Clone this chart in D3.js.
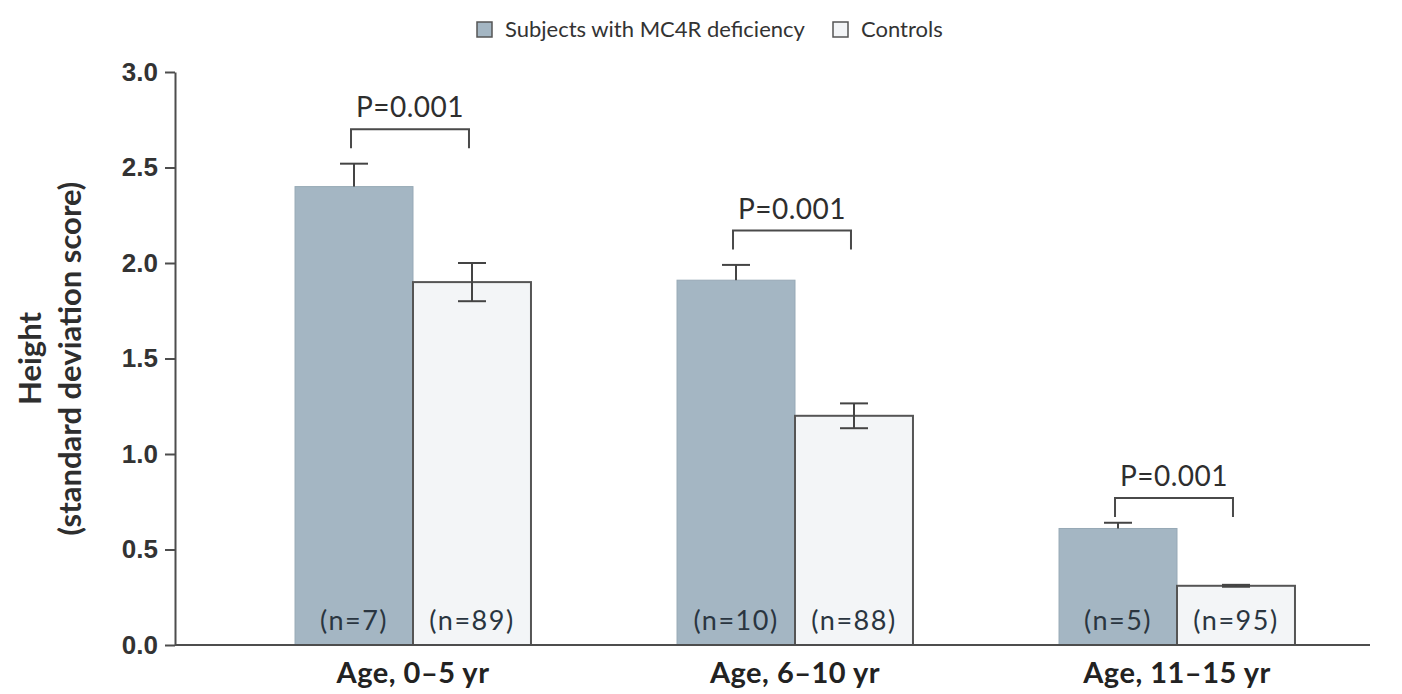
<!DOCTYPE html>
<html>
<head>
<meta charset="utf-8">
<script src="https://cdn.jsdelivr.net/npm/d3@7"></script>
<style>
  body { margin: 0; background: #fff; }
  svg { display: block; font-family: Lato, "Open Sans", sans-serif; }
  .tick text { font-size: 26px; font-weight: bold; fill: #333; }
</style>
</head>
<body>
<svg width="1402" height="694"></svg>
<script>
const groups = ['Age, 0–5 yr', 'Age, 6–10 yr', 'Age, 11–15 yr'];
const seriesNames = ['Subjects with MC4R deficiency', 'Controls'];
const mc4rValues = [2.40, 1.91, 0.61];
const mc4rErrors = [0.12, 0.08, 0.03];
const controlValues = [1.90, 1.20, 0.31];
const controlErrors = [0.10, 0.065, 0.005];
const mc4rCounts = ['(n=7)', '(n=10)', '(n=5)'];
const controlCounts = ['(n=89)', '(n=88)', '(n=95)'];
const pLabels = ['P=0.001', 'P=0.001', 'P=0.001'];
const pLevels = [2.70, 2.17, 0.77];
const yTicks = [0, 0.5, 1.0, 1.5, 2.0, 2.5, 3.0];

const svg = d3.select('svg');
const margin = { top: 72, right: 32, bottom: 49, left: 175 };
const width = 1402, height = 694;
const axisColor = '#4d4d4d';
const colors = { 'Subjects with MC4R deficiency': '#a4b6c3', 'Controls': '#f3f5f7' };

const y = d3.scaleLinear().domain([0, 3]).range([height - margin.bottom, margin.top]);
const x = d3.scaleBand().domain(groups).range([222, 1368]);
const xs = d3.scaleBand().domain(seriesNames).range([0, x.bandwidth()]).paddingOuter(0.619);

const rows = groups.map((g, i) => ({
  group: g,
  bars: [
    { name: seriesNames[0], value: mc4rValues[i], err: mc4rErrors[i], n: mc4rCounts[i], lower: false },
    { name: seriesNames[1], value: controlValues[i], err: controlErrors[i], n: controlCounts[i], lower: true }
  ],
  p: pLabels[i],
  pLevel: pLevels[i]
}));

// y axis
const yAxis = svg.append('g')
  .attr('transform', `translate(${margin.left},0)`)
  .call(d3.axisLeft(y).tickValues(yTicks).tickFormat(d3.format('.1f')).tickSize(10).tickSizeOuter(0).tickPadding(7));
yAxis.selectAll('path, line').attr('stroke', axisColor).attr('stroke-width', 2);

// y title
const yt = svg.append('text')
  .attr('transform', `translate(0,${(y(0) + y(3)) / 2}) rotate(-90)`)
  .attr('text-anchor', 'middle')
  .style('font-weight', 'bold').style('font-size', '31px').attr('fill', '#2e2e2e');
yt.append('tspan').attr('x', 0).attr('y', 41).text('Height');
yt.append('tspan').attr('x', 0).attr('y', 81).text('(standard deviation score)');

// bars
const g = svg.selectAll('.grp').data(rows).enter().append('g')
  .attr('class', 'grp')
  .attr('transform', d => `translate(${x(d.group)},0)`);

const bar = g.selectAll('.bar').data(d => d.bars).enter().append('g').attr('class', 'bar');

bar.append('rect')
  .attr('x', d => xs(d.name))
  .attr('width', xs.bandwidth())
  .attr('y', d => y(d.value))
  .attr('height', d => y(0) - y(d.value))
  .attr('fill', d => colors[d.name])
  .attr('stroke', d => d.name === 'Controls' ? '#555' : '#97a9b6')
  .attr('stroke-width', d => d.name === 'Controls' ? 2 : 1);

// error bars
const cap = 14;
bar.append('line')
  .attr('x1', d => xs(d.name) + xs.bandwidth() / 2)
  .attr('x2', d => xs(d.name) + xs.bandwidth() / 2)
  .attr('y1', d => y(d.value + d.err))
  .attr('y2', d => d.lower ? y(d.value - d.err) : y(d.value))
  .attr('stroke', '#444').attr('stroke-width', 2);
bar.append('line')
  .attr('x1', d => xs(d.name) + xs.bandwidth() / 2 - cap)
  .attr('x2', d => xs(d.name) + xs.bandwidth() / 2 + cap)
  .attr('y1', d => y(d.value + d.err))
  .attr('y2', d => y(d.value + d.err))
  .attr('stroke', '#444').attr('stroke-width', 2);
bar.filter(d => d.lower).append('line')
  .attr('x1', d => xs(d.name) + xs.bandwidth() / 2 - cap)
  .attr('x2', d => xs(d.name) + xs.bandwidth() / 2 + cap)
  .attr('y1', d => y(d.value - d.err))
  .attr('y2', d => y(d.value - d.err))
  .attr('stroke', '#444').attr('stroke-width', 2);

// n labels
bar.append('text')
  .attr('x', d => xs(d.name) + xs.bandwidth() / 2)
  .attr('y', y(0) - 15)
  .attr('text-anchor', 'middle')
  .style('font-size', '27px').style('letter-spacing', '1.5px').attr('fill', '#2a3540')
  .text(d => d.n);

// significance brackets
const cx = name => xs(name) + xs.bandwidth() / 2;
g.append('path')
  .attr('d', d => {
    const x1 = cx(seriesNames[0]) - 3, x2 = cx(seriesNames[1]) - 3, yy = y(d.pLevel);
    return `M${x1},${yy + 19}V${yy}H${x2}V${yy + 19}`;
  })
  .attr('fill', 'none').attr('stroke', '#4a4a4a').attr('stroke-width', 2);
g.append('text')
  .attr('x', (cx(seriesNames[0]) + cx(seriesNames[1])) / 2 - 3)
  .attr('y', d => y(d.pLevel) - 12)
  .attr('text-anchor', 'middle')
  .style('font-size', '28px').style('letter-spacing', '0.5px').attr('fill', '#2e2e2e')
  .text(d => d.p);

// baseline
svg.append('line')
  .attr('x1', margin.left).attr('x2', width - margin.right)
  .attr('y1', y(0)).attr('y2', y(0))
  .attr('stroke', axisColor).attr('stroke-width', 2);

// x labels
g.append('text')
  .attr('x', x.bandwidth() / 2)
  .attr('y', y(0) + 38)
  .attr('text-anchor', 'middle')
  .style('font-size', '29px').style('font-weight', 'bold').style('letter-spacing', '0.5px').attr('fill', '#222')
  .text(d => d.group);

// legend
const legend = svg.append('g').attr('transform', 'translate(477,22)');
const lx = [0, 356];
seriesNames.forEach((s, i) => {
  const item = legend.append('g').attr('transform', `translate(${lx[i]},0)`);
  item.append('rect').attr('width', 15).attr('height', 15)
    .attr('fill', colors[s]).attr('stroke', '#555').attr('stroke-width', 1.5);
  item.append('text').attr('x', 28).attr('y', 15)
    .style('font-size', '22px').attr('fill', '#333').text(s);
});
</script>
</body>
</html>
